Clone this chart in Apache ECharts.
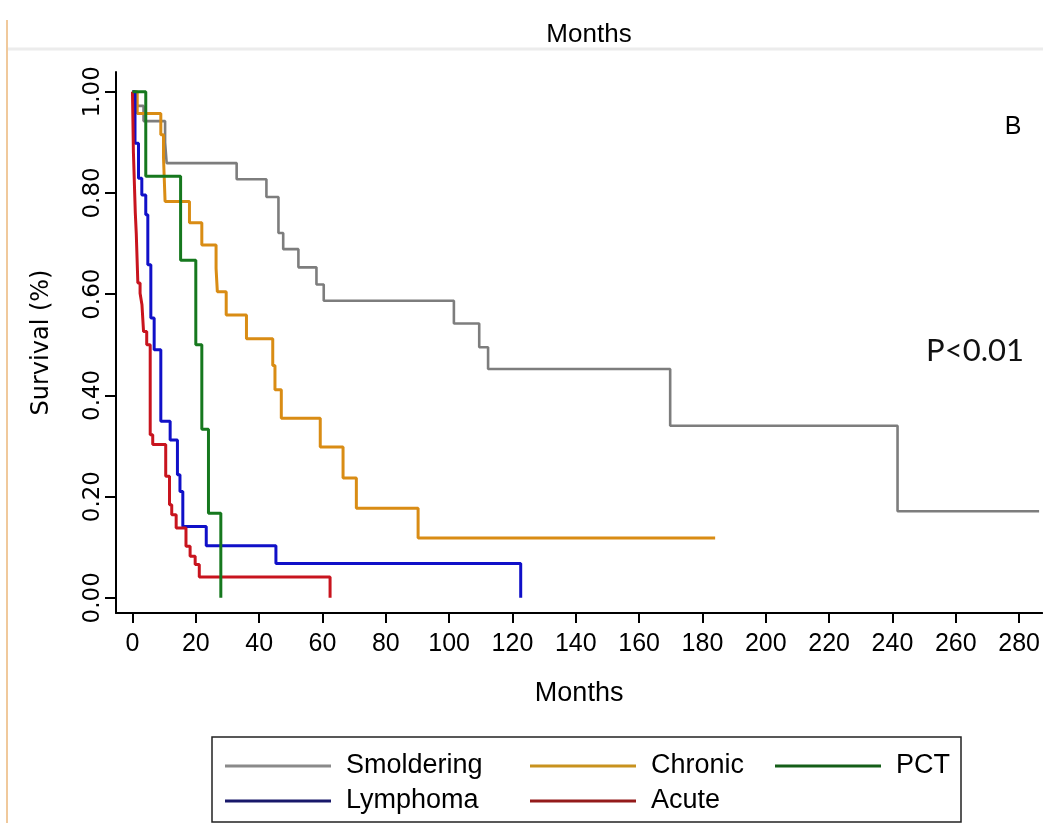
<!DOCTYPE html>
<html>
<head>
<meta charset="utf-8">
<script src="https://cdn.jsdelivr.net/npm/echarts@6/dist/echarts.min.js"></script>
<style>
html,body{margin:0;padding:0;background:#ffffff;}
#chart{width:1043px;height:823px;}
</style>
</head>
<body>
<div id="chart"></div>
<script>
// ---- data ----
const seriesNames = ['Smoldering', 'Chronic', 'PCT', 'Lymphoma', 'Acute'];

const smolderingTimes = [0, 1.2, 3.5, 10.3, 10.8, 32.9, 42.3, 46.1, 47.6, 52.4, 58.1, 60.4, 101.5, 109.5, 112.3, 169.8, 241.6, 286.3];
const smolderingSurv  = [1, 0.972, 0.942, 0.90, 0.859, 0.827, 0.792, 0.721, 0.689, 0.653, 0.619, 0.587, 0.542, 0.495, 0.452, 0.340, 0.171, 0.171];

const chronicTimes = [0, 1.5, 8.95, 9.8, 10.3, 18.0, 21.9, 26.4, 26.8, 29.6, 36.0, 44.3, 45.0, 47.0, 59.3, 66.5, 70.7, 90.2, 184];
const chronicSurv  = [1, 0.957, 0.915, 0.87, 0.783, 0.741, 0.697, 0.651, 0.605, 0.559, 0.512, 0.459, 0.411, 0.355, 0.298, 0.237, 0.177, 0.118, 0.118];

const pctTimes = [0, 4.2, 15.2, 20.0, 21.9, 24.0, 27.9];
const pctSurv  = [1, 0.833, 0.667, 0.5, 0.333, 0.167, 0];

const lymphomaTimes = [0, 0.8, 1.9, 2.95, 4.2, 4.85, 5.8, 6.85, 8.95, 11.9, 14.2, 15.0, 15.9, 23.3, 45.3, 122.6];
const lymphomaSurv  = [1, 0.898, 0.829, 0.796, 0.757, 0.658, 0.553, 0.49, 0.349, 0.312, 0.243, 0.210, 0.141, 0.103, 0.068, 0];

const acuteTimes = [0, 0.3, 0.9, 1.2, 1.7, 2.4, 3.0, 3.5, 4.5, 5.6, 6.4, 10.5, 11.7, 12.4, 13.8, 16.9, 18.2, 19.8, 21.1, 62.4];
const acuteSurv  = [1, 0.88, 0.76, 0.72, 0.622, 0.602, 0.579, 0.526, 0.50, 0.322, 0.303, 0.240, 0.184, 0.164, 0.138, 0.102, 0.082, 0.066, 0.041, 0];

const xTicks = [0, 20, 40, 60, 80, 100, 120, 140, 160, 180, 200, 220, 240, 260, 280];
const yTicks = [0, 0.2, 0.4, 0.6, 0.8, 1.0];

const colors = {
  Smoldering: '#7d7d7d',
  Chronic: '#d98c14',
  PCT: '#16781e',
  Lymphoma: '#1010c8',
  Acute: '#c8141e'
};
const legendColors = {
  Smoldering: '#8a8a8a',
  Chronic: '#c8921e',
  PCT: '#145e18',
  Lymphoma: '#18186a',
  Acute: '#941a1a'
};

function pairs(t, s) { return t.map((v, i) => [v, s[i]]); }

const FONT = '"Liberation Sans", Arial, sans-serif';
const VFONT = '"DejaVu Sans", "Liberation Sans", sans-serif';

function mkSeries(name, t, s) {
  return {
    name: name,
    type: 'line',
    step: 'end',
    data: pairs(t, s),
    symbol: 'none',
    color: colors[name],
    lineStyle: { width: name === 'Smoldering' ? 2.6 : 3, color: colors[name] },
    animation: false,
    z: 2
  };
}

const chart = echarts.init(document.getElementById('chart'), null, { renderer: 'canvas' });

const legendCommon = {
  orient: 'horizontal',
  icon: 'rect',
  itemWidth: 106,
  itemHeight: 3,
  padding: 0,
  selectedMode: false,
  textStyle: { fontSize: 27, color: '#000', fontFamily: FONT, padding: [0, 0, 0, 10], lineHeight: 30 }
};
function legendItem(name, left, top) {
  return Object.assign({}, legendCommon, {
    data: [{ name: name, itemStyle: { color: legendColors[name] } }],
    left: left,
    top: top
  });
}

const option = {
  backgroundColor: '#ffffff',
  animation: false,
  grid: { left: 116, right: 0, top: 72, bottom: 210, containLabel: false },
  xAxis: {
    type: 'value',
    min: -5.2,
    max: 287.3,
    name: 'Months',
    nameLocation: 'middle',
    nameGap: 67,
    nameTextStyle: { fontSize: 27, color: '#000', fontFamily: FONT },
    axisLine: { show: true, onZero: false, lineStyle: { color: '#000', width: 2 } },
    axisTick: { show: true, length: 10, customValues: xTicks, lineStyle: { color: '#000', width: 2 } },
    axisLabel: { customValues: xTicks, margin: 19, fontSize: 25, color: '#000', fontFamily: FONT },
    splitLine: { show: false }
  },
  yAxis: {
    type: 'value',
    min: -0.03,
    max: 1.039,
    name: 'Survival (%)',
    nameLocation: 'middle',
    nameRotate: 90,
    nameGap: 62,
    nameTextStyle: { fontSize: 24, color: '#000', fontFamily: VFONT },
    axisLine: { show: true, onZero: false, lineStyle: { color: '#000', width: 2 } },
    axisTick: { show: true, length: 11, customValues: yTicks, lineStyle: { color: '#000', width: 2 } },
    axisLabel: {
      customValues: yTicks,
      rotate: 90,
      margin: 11,
      fontSize: 23,
      color: '#000',
      fontFamily: VFONT,
      formatter: v => v.toFixed(2)
    },
    splitLine: { show: false }
  },
  legend: [
    legendItem('Smoldering', 225, 751),
    legendItem('Chronic', 530, 751),
    legendItem('PCT', 775, 751),
    legendItem('Lymphoma', 225, 786),
    legendItem('Acute', 530, 786)
  ],
  graphic: [
    { type: 'line', shape: { x1: 7, y1: 20, x2: 7, y2: 823 }, style: { stroke: '#f0c99c', lineWidth: 2 }, silent: true },
    { type: 'line', shape: { x1: 8, y1: 49, x2: 1043, y2: 49 }, style: { stroke: '#ececec', lineWidth: 3 }, silent: true },
    { type: 'text', x: 589, y: 35, style: { text: 'Months', fontSize: 26, fontFamily: FONT, fill: '#000', textAlign: 'center', textVerticalAlign: 'middle' }, silent: true },
    { type: 'text', x: 1013, y: 127, style: { text: 'B', fontSize: 25, fontFamily: FONT, fill: '#000', textAlign: 'center', textVerticalAlign: 'middle' }, silent: true },
    { type: 'text', x: 975, y: 351, style: { text: 'P<0.01', fontSize: 31, fontFamily: 'Lato, "Open Sans", sans-serif', fill: '#111', textAlign: 'center', textVerticalAlign: 'middle' }, silent: true },
    { type: 'rect', shape: { x: 212, y: 737, width: 749, height: 85 }, style: { fill: 'none', stroke: '#222', lineWidth: 1.5 }, silent: true }
  ],
  series: [
    mkSeries('Smoldering', smolderingTimes, smolderingSurv),
    mkSeries('Chronic', chronicTimes, chronicSurv),
    mkSeries('Lymphoma', lymphomaTimes, lymphomaSurv),
    mkSeries('Acute', acuteTimes, acuteSurv),
    mkSeries('PCT', pctTimes, pctSurv)
  ]
};

chart.setOption(option);
</script>
</body>
</html>
